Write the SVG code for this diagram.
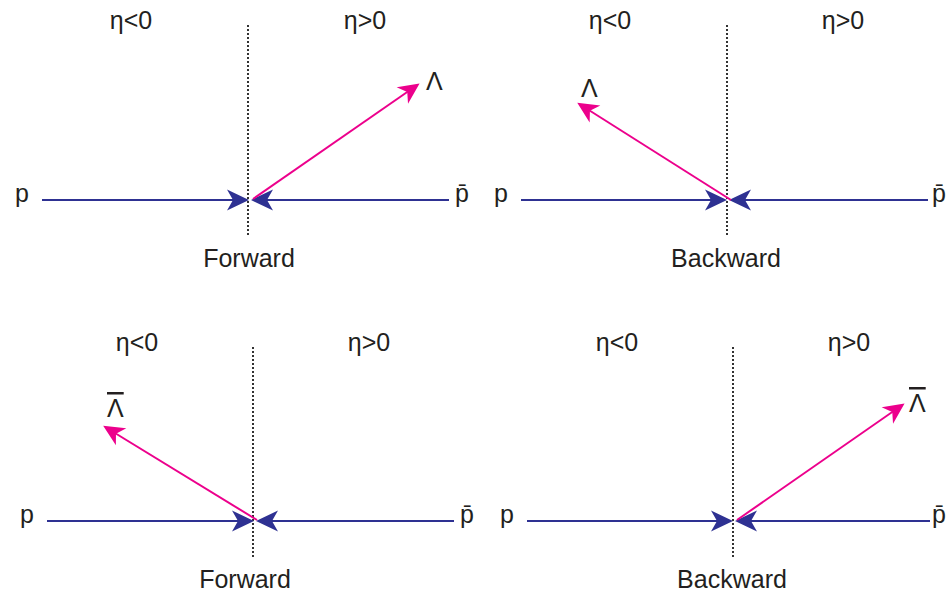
<svg xmlns="http://www.w3.org/2000/svg" width="948" height="593" viewBox="0 0 948 593">
<style>
text{font-family:"Liberation Sans",Arial,sans-serif;font-size:25px;fill:#231f20}
.c{text-anchor:middle}
.ov{text-decoration:overline}
.axis{stroke:#000;stroke-width:1.6;stroke-dasharray:2 2}
.beam{stroke:#2e3192;stroke-width:2;fill:none;marker-end:url(#bh)}
.lam{stroke:#ec008c;stroke-width:2;fill:none;marker-end:url(#mh)}
</style>
<defs>
<marker id="bh" markerUnits="userSpaceOnUse" orient="auto" overflow="visible" markerWidth="30" markerHeight="30">
<path d="M8,0 L-14,-10.5 L-8,0 L-14,10.5 Z" fill="#2e3192"/>
</marker>
<marker id="mh" markerUnits="userSpaceOnUse" orient="auto" overflow="visible" markerWidth="30" markerHeight="30">
<path d="M8,0 L-13,-10 L-7,0 L-13,10 Z" fill="#ec008c"/>
</marker>
</defs>

<g id="panel-top-left">
<line class="axis" x1="248" y1="25" x2="248" y2="237"/>
<text class="c" x="131" y="29">η&lt;0</text>
<text class="c" x="365" y="29">η&gt;0</text>
<text x="15" y="202">p</text>
<text x="455" y="202">p̄</text>
<text x="426" y="90">Λ</text>
<text class="c" x="249" y="267">Forward</text>
</g>

<g id="panel-top-right">
<line class="axis" x1="727" y1="25" x2="727" y2="237"/>
<text class="c" x="610" y="29">η&lt;0</text>
<text class="c" x="843" y="29">η&gt;0</text>
<text x="494" y="202">p</text>
<text x="932" y="202">p̄</text>
<text x="581" y="97">Λ</text>
<text class="c" x="726" y="267">Backward</text>
</g>

<g id="panel-bottom-left">
<line class="axis" x1="253" y1="347" x2="253" y2="558"/>
<text class="c" x="137" y="351">η&lt;0</text>
<text class="c" x="369" y="351">η&gt;0</text>
<text x="20" y="523">p</text>
<text x="460" y="523">p̄</text>
<text x="107" y="417" class="ov">Λ</text>
<text class="c" x="245" y="588">Forward</text>
</g>

<g id="panel-bottom-right">
<line class="axis" x1="733" y1="347" x2="733" y2="558"/>
<text class="c" x="617" y="351">η&lt;0</text>
<text class="c" x="849" y="351">η&gt;0</text>
<text x="500" y="523">p</text>
<text x="932" y="523">p̄</text>
<text x="909" y="412" class="ov">Λ</text>
<text class="c" x="732" y="588">Backward</text>
</g>

<g id="connectors">
<line class="beam" x1="42" y1="200" x2="241" y2="200"/>
<line class="beam" x1="449" y1="200" x2="259" y2="200"/>
<line class="lam" x1="253" y1="199" x2="413" y2="88"/>

<line class="beam" x1="521" y1="200" x2="719" y2="200"/>
<line class="beam" x1="928" y1="200" x2="737" y2="200"/>
<line class="lam" x1="731" y1="200" x2="584" y2="107"/>

<line class="beam" x1="47" y1="521" x2="246" y2="521"/>
<line class="beam" x1="454" y1="521" x2="264" y2="521"/>
<line class="lam" x1="257" y1="520" x2="110" y2="430"/>

<line class="beam" x1="527" y1="521" x2="725" y2="521"/>
<line class="beam" x1="930" y1="521" x2="743" y2="521"/>
<line class="lam" x1="737" y1="520" x2="898" y2="408"/>
</g>
</svg>
